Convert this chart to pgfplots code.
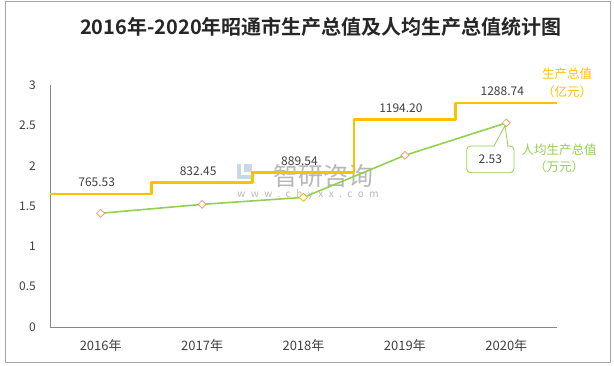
\documentclass[border=0pt]{standalone}
\usepackage{fontspec}
\setmainfont{Noto Sans CJK SC}
\newfontfamily\titlefont{Noto Sans CJK SC Bold}
\newfontfamily\wmfont[LetterSpace=55]{Noto Sans CJK SC}
\usepackage{pgfplots}
\pgfplotsset{compat=1.18}
\definecolor{gold}{HTML}{FFC000}
\definecolor{lgreen}{HTML}{92D050}
\definecolor{mk}{HTML}{F0965A}
\definecolor{txt}{HTML}{404040}
\definecolor{axc}{HTML}{868686}
\definecolor{wmblue}{HTML}{C9D7EA}
\begin{document}
\begin{tikzpicture}
\useasboundingbox (-50pt,-39pt) rectangle (564pt,327pt);
\draw[color=black!35, line width=0.8pt] (-45pt,-35pt) rectangle (560pt,326pt);
% watermark
\fill[wmblue] (187pt,148pt) rectangle (191pt,163pt);
\fill[wmblue] (187pt,148pt) rectangle (202pt,152pt);
\fill[wmblue] (194pt,155pt) rectangle (202pt,163pt);
\node[font=\fontsize{25}{25}\selectfont, text=black!28] at (273pt,151pt) {智研咨询};
\node[font=\wmfont\fontsize{10}{10}\selectfont, text=black!28] at (258pt,132pt) {www.chyxx.com};
\begin{axis}[
  at={(0pt,0pt)}, anchor=south west,
  scale only axis, width=507pt, height=242pt,
  xmin=-0.5, xmax=4.5, ymin=0, ymax=3,
  axis x line*=bottom, axis y line*=left,
  axis line style={-, draw=axc, line width=0.6pt},
  xtick={0,1,2,3,4},
  xticklabels={2016年,2017年,2018年,2019年,2020年},
  ytick={0,0.5,1,1.5,2,2.5,3},
  major tick length=0pt,
  tick label style={font=\fontsize{12}{14}\selectfont, text=txt},
  yticklabel style={anchor=east, inner sep=0pt, xshift=-14pt},
  xticklabel style={anchor=center, inner sep=0pt, yshift=-19pt, font=\fontsize{13}{15}\selectfont},
  /pgf/number format/assume math mode=true,
  clip=false,
]
\addplot[lgreen, line width=1.6pt, mark=square*, mark size=2.8pt,
  mark options={rotate=45, fill=white, draw=mk, line width=0.7pt}]
  coordinates {(0,1.41)(1,1.52)(2,1.607)(3,2.128)(4,2.53)};
\addplot[only marks, mark=square*, mark size=2.8pt,
  mark options={rotate=45, fill=white, draw=gold, line width=0.7pt}]
  coordinates {(2,1.607)};
\end{axis}
\begin{axis}[
  at={(0pt,0pt)}, anchor=south west,
  scale only axis, width=507pt, height=242pt,
  xmin=-0.5, xmax=4.5, ymin=0, ymax=1393,
  hide axis, clip=false,
]
\addplot[gold, line width=2.6pt, line join=round, const plot mark left]
  coordinates {(-0.5,765.53)(0.5,832.45)(1.5,889.54)(2.5,1194.20)(3.5,1288.74)(4.5,1288.74)};
\addplot[draw=none, mark=none, nodes near coords, point meta=explicit symbolic,
  nodes near coords style={anchor=center, inner sep=0pt, yshift=11.5pt, xshift=-4pt,
    font=\fontsize{12}{14}\selectfont, text=txt}]
  coordinates {(0,765.53)[765.53] (1,832.45)[832.45] (2,889.54)[889.54] (3,1194.20)[1194.20] (4,1288.74)[1288.74]};
\end{axis}
% callout
\draw[lgreen, line width=0.8pt, fill=white, rounded corners=4pt] (416.7pt,154.3pt) rectangle (464pt,181pt);
\fill[white] (445pt,180.3pt) rectangle (457.3pt,181.7pt);
\draw[lgreen, line width=0.8pt, line join=round] (444pt,181pt) -- (455pt,201.5pt) -- (458pt,181pt);
\node[font=\fontsize{12}{14}\selectfont, text=txt] at (440.3pt,167.5pt) {2.53};
% series labels
\node[font=\fontsize{12.5}{14}\selectfont, text=gold] at (517pt,253pt) {生产总值};
\node[font=\fontsize{12.5}{14}\selectfont, text=gold] at (517pt,235pt) {（亿元）};
\node[font=\fontsize{12.5}{14}\selectfont, text=lgreen] at (509pt,177pt) {人均生产总值};
\node[font=\fontsize{12.5}{14}\selectfont, text=lgreen] at (509pt,160pt) {（万元）};
% title
\node[font=\titlefont\fontsize{20}{24}\selectfont, text=black!85] at (271pt,300pt) {2016年-2020年昭通市生产总值及人均生产总值统计图};
\end{tikzpicture}
\end{document}
